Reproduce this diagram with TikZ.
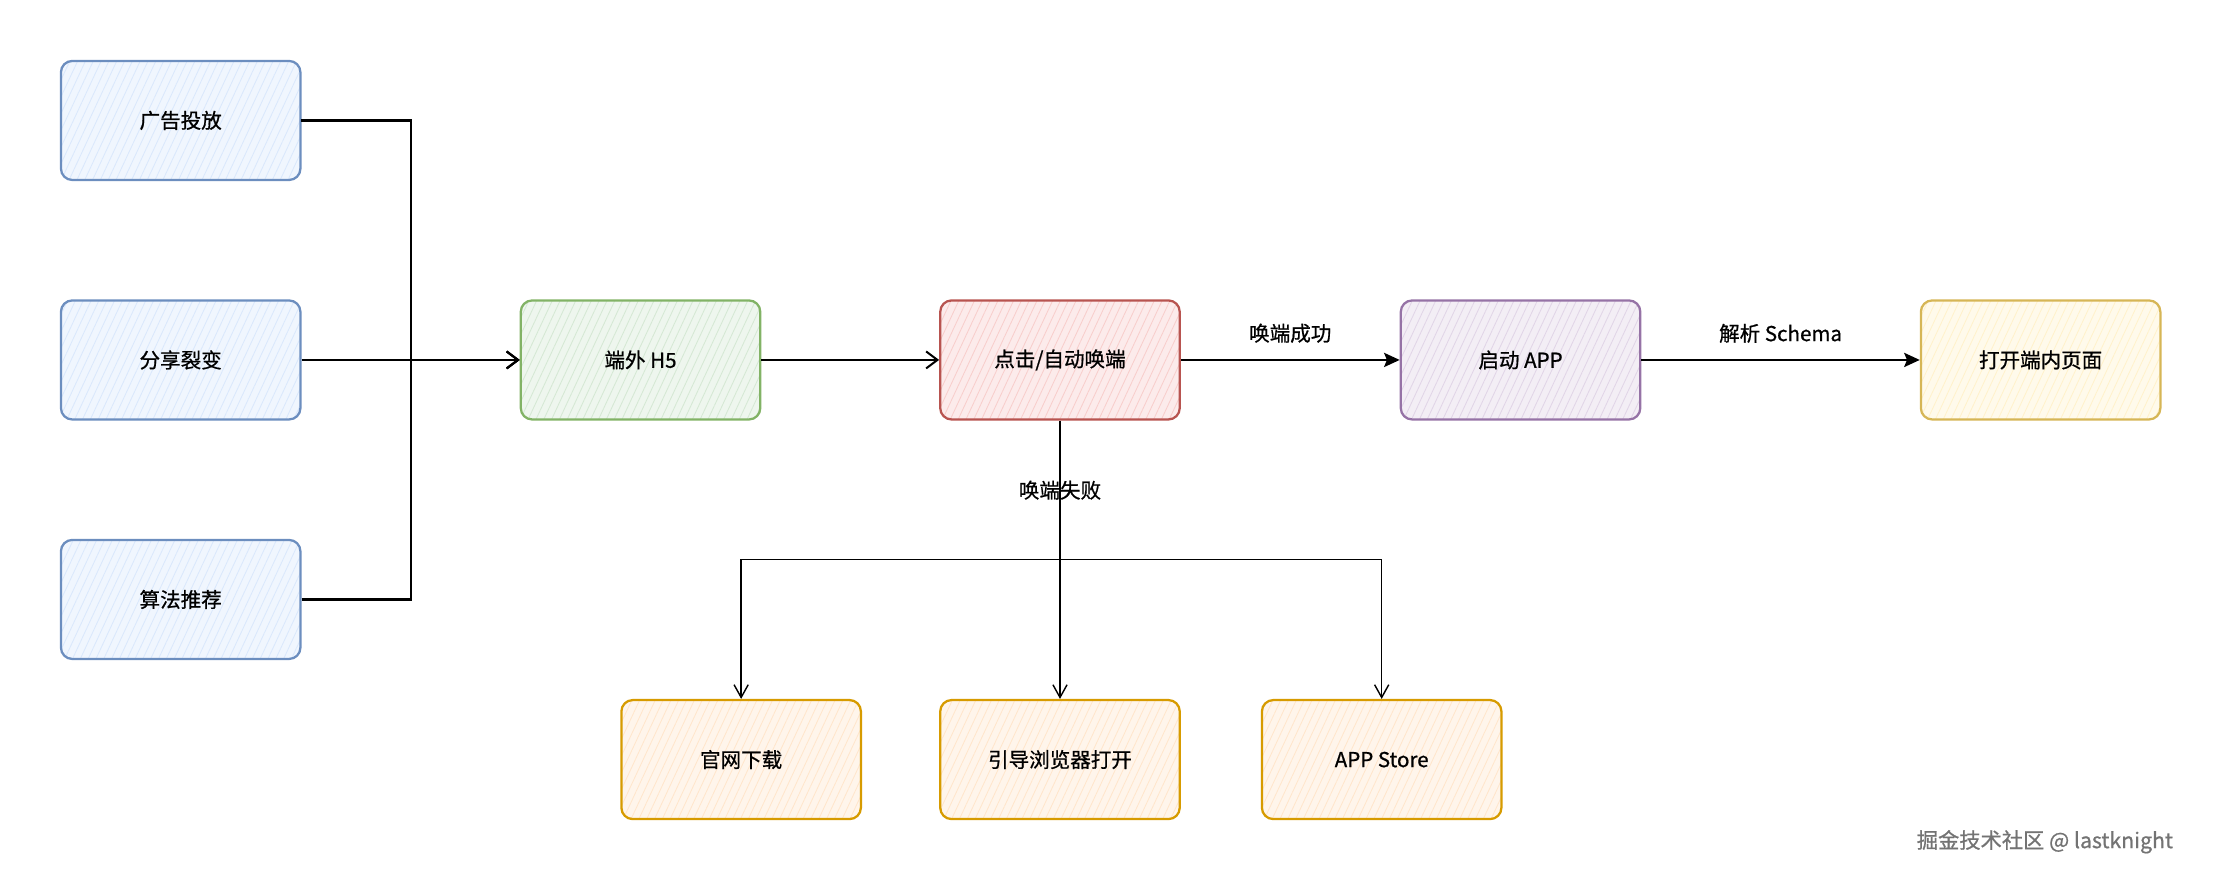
\documentclass[tikz,border=0pt]{standalone}
\usepackage{fontspec}
\setmainfont{Noto Sans CJK SC}[FakeBold=0.8,AutoFakeBold=0.8]
\usetikzlibrary{arrows.meta,patterns.meta,positioning}

\definecolor{blueFill}{HTML}{DAE8FC}
\definecolor{blueLine}{HTML}{6C8EBF}
\definecolor{greenFill}{HTML}{D5E8D4}
\definecolor{greenLine}{HTML}{82B366}
\definecolor{redFill}{HTML}{F8CECC}
\definecolor{redLine}{HTML}{B85450}
\definecolor{purpleFill}{HTML}{E1D5E7}
\definecolor{purpleLine}{HTML}{9673A6}
\definecolor{yellowFill}{HTML}{FFF2CC}
\definecolor{yellowLine}{HTML}{D6B656}
\definecolor{orangeFill}{HTML}{FFE6CC}
\definecolor{orangeLine}{HTML}{D79B00}

\tikzset{
  box/.style 2 args={draw=#2,line width=1.6pt,rounded corners=8pt,
    preaction={fill=#1!40},
    pattern={Lines[angle=65,distance=5pt,line width=0.6pt]},pattern color=#1,
    minimum width=169pt,minimum height=84pt,inner sep=0pt,
    font=\fontsize{14.5}{16}\selectfont\bfseries},
  feed/.style={line width=1.8pt,-{Straight Barb[length=8pt,width=12pt,line width=1.4pt]}},
  pass/.style={line width=1.5pt,-{Stealth[length=11pt,width=10pt,inset=2pt]}},
  fail/.style={line width=1pt,-{Straight Barb[length=9pt,width=10pt]}},
  edgelabel/.style={font=\fontsize{14.5}{16}\selectfont\bfseries}
}

\begin{document}
\begin{tikzpicture}[x=1pt,y=-1pt]
  \useasboundingbox (0,0) rectangle (1568,622);

  % sources
  \node[box={blueFill}{blueLine}] (ad)    at (127.5,85)  {广告投放};
  \node[box={blueFill}{blueLine}] (share) at (127.5,254) {分享裂变};
  \node[box={blueFill}{blueLine}] (algo)  at (127.5,423) {算法推荐};

  % main row
  \node[box={greenFill}{greenLine}]   (h5)    at (452,254)  {端外 H5};
  \node[box={redFill}{redLine}]       (click) at (748,254)  {点击/自动唤端};
  \node[box={purpleFill}{purpleLine}] (app)   at (1073,254) {启动 APP};
  \node[box={yellowFill}{yellowLine}] (page)  at (1440,254) {打开端内页面};

  % fallbacks
  \node[box={orangeFill}{orangeLine}] (site)  at (523,536) {官网下载};
  \node[box={orangeFill}{orangeLine}] (guide) at (748,536) {引导浏览器打开};
  \node[box={orangeFill}{orangeLine}] (store) at (975,536) {APP Store};

  \coordinate (bus) at (290,254);
  \coordinate (split) at (748,395);

  \draw[feed] (ad.east) -| (bus) -- (h5.west);
  \draw[feed] (share.east) -- (h5.west);
  \draw[feed] (algo.east) -| (bus) -- (h5.west);
  \draw[feed] (h5.east) -- (click.west);

  \draw[pass] (click.east) -- node[edgelabel,above=8pt] {唤端成功} (app.west);
  \draw[pass] (app.east) -- node[edgelabel,above=8pt] {解析 Schema} (page.west);

  \draw[line width=1.6pt] (click.south) -- node[edgelabel] {唤端失败} (split);
  \draw[fail] (split) -- (guide.north);
  \draw[fail] (split) -| (site.north);
  \draw[fail] (split) -| (store.north);

  % watermark
  \node[font=\fontsize{15}{17}\selectfont,text=black!55] (mark) at (1443,594) {掘金技术社区 @ lastknight};
\end{tikzpicture}
\end{document}
